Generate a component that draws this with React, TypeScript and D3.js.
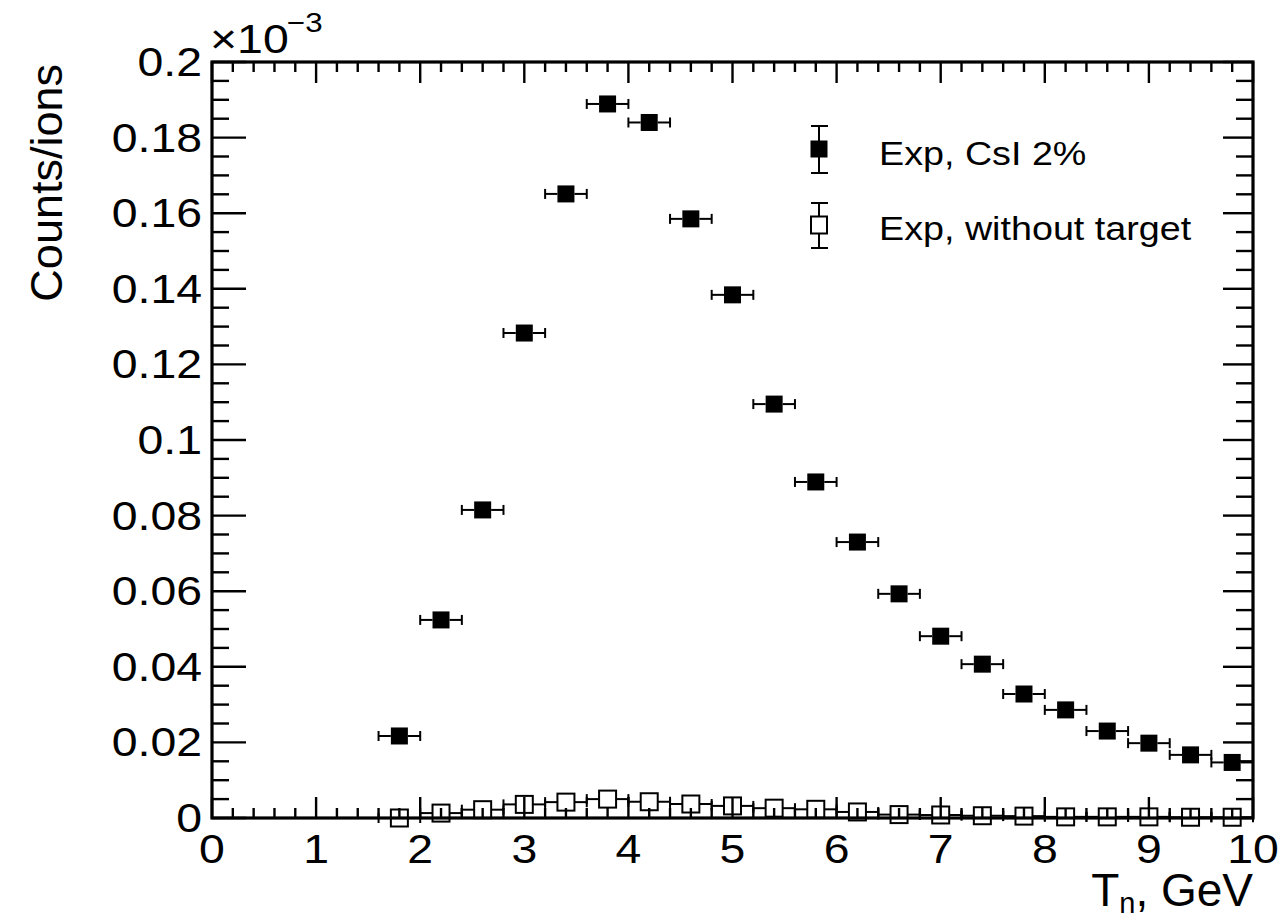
import React from "react";
import * as d3 from "d3";

const xCenters = [1.8, 2.2, 2.6, 3.0, 3.4, 3.8, 4.2, 4.6, 5.0, 5.4, 5.8, 6.2, 6.6, 7.0, 7.4, 7.8, 8.2, 8.6, 9.0, 9.4, 9.8];
const csiValues = [0.0217, 0.0524, 0.0815, 0.1283, 0.1651, 0.1889, 0.1840, 0.1585, 0.1384, 0.1095, 0.0889, 0.0730, 0.0593, 0.0481, 0.0407, 0.0328, 0.0286, 0.0230, 0.0198, 0.0167, 0.0147];
const noTargetValues = [0.0, 0.0013, 0.0022, 0.0036, 0.0042, 0.0050, 0.0043, 0.0037, 0.0032, 0.0026, 0.0023, 0.0016, 0.0009, 0.0008, 0.0006, 0.0005, 0.0003, 0.0003, 0.0003, 0.0002, 0.0002];
const xHalfWidth = 0.2;
const xTickLabels = ["0", "1", "2", "3", "4", "5", "6", "7", "8", "9", "10"];
const yTickLabels = ["0", "0.02", "0.04", "0.06", "0.08", "0.1", "0.12", "0.14", "0.16", "0.18", "0.2"];
const legendLabels = ["Exp, CsI 2%", "Exp, without target"];

const W = 1281, H = 923;
const L = 212, R = 1253, T = 62, B = 818;
const FONT = "'Liberation Sans', Arial, Helvetica, sans-serif";
const SX = 1.16;

export default function App() {
  const x = d3.scaleLinear().domain([0, 10]).range([L, R]);
  const y = d3.scaleLinear().domain([0, 0.2]).range([B, T]);
  const xMajor = d3.range(0, 11, 1);
  const xMinor = d3.range(0, 50).map((i) => i * 0.2).filter((v) => Math.abs(v - Math.round(v)) > 1e-6);
  const yMajor = d3.range(0, 11).map((i) => i * 0.02);
  const yMinor = d3.range(0, 41).map((i) => i * 0.005).filter((_, i) => i % 4 !== 0);
  const ms = 17;
  const cap = 10;

  const errBar = (xc: number, yc: number, key: string) => {
    const px = x(xc), py = y(yc);
    const x0 = x(xc - xHalfWidth), x1 = x(xc + xHalfWidth);
    return (
      <g key={key} stroke="#000" strokeWidth={2}>
        <line x1={x0} x2={px - ms / 2} y1={py} y2={py} />
        <line x1={px + ms / 2} x2={x1} y1={py} y2={py} />
        <line x1={x0} x2={x0} y1={py - cap / 2} y2={py + cap / 2} />
        <line x1={x1} x2={x1} y1={py - cap / 2} y2={py + cap / 2} />
      </g>
    );
  };

  return (
    <svg width={W} height={H} style={{ position: "absolute", left: 0, top: 0, background: "#fff" }} fontFamily={FONT}>
      <rect x={0} y={0} width={W} height={H} fill="#fff" />
      {/* ticks */}
      <g stroke="#000" strokeWidth={2.4}>
        {xMajor.map((v) => (
          <g key={"xM" + v}>
            <line x1={x(v)} x2={x(v)} y1={B} y2={B - 21} />
            <line x1={x(v)} x2={x(v)} y1={T} y2={T + 21} />
          </g>
        ))}
        {xMinor.map((v) => (
          <g key={"xm" + v}>
            <line x1={x(v)} x2={x(v)} y1={B} y2={B - 10} />
            <line x1={x(v)} x2={x(v)} y1={T} y2={T + 10} />
          </g>
        ))}
        {yMajor.map((v) => (
          <g key={"yM" + v}>
            <line x1={L} x2={L + 34} y1={y(v)} y2={y(v)} />
            <line x1={R} x2={R - 30} y1={y(v)} y2={y(v)} />
          </g>
        ))}
        {yMinor.map((v) => (
          <g key={"ym" + v}>
            <line x1={L} x2={L + 17} y1={y(v)} y2={y(v)} />
            <line x1={R} x2={R - 17} y1={y(v)} y2={y(v)} />
          </g>
        ))}
      </g>
      <rect x={L} y={T} width={R - L} height={B - T} fill="none" stroke="#000" strokeWidth={3.2} />

      {/* tick labels */}
      <g fontSize={40} fill="#000">
        {xMajor.map((v, i) => (
          <text key={"xl" + v} transform={`translate(${x(v)},863) scale(${SX},1)`} textAnchor="middle">
            {xTickLabels[i]}
          </text>
        ))}
        {yMajor.map((v, i) => (
          <text key={"yl" + i} transform={`translate(202,${y(v) + 14}) scale(${SX},1)`} textAnchor="end">
            {yTickLabels[i]}
          </text>
        ))}
      </g>
      <g fill="#000">
        <text transform={`translate(210,53) scale(${SX},1)`} fontSize={40}>×10</text>
        <text transform={`translate(287,32) scale(${SX},1)`} fontSize={27}>−3</text>
      </g>

      {/* axis titles */}
      <text x={R} y={906} textAnchor="end" fontSize={46} fill="#000">
        <tspan>T</tspan>
        <tspan dy={7} fontSize={29}>n</tspan>
        <tspan dy={-7}>, GeV</tspan>
      </text>
      <text transform="translate(62,64) rotate(-90)" textAnchor="end" fontSize={45} fill="#000">
        Counts/ions
      </text>

      {/* open markers: without target */}
      {xCenters.map((xc, i) => errBar(xc, noTargetValues[i], "ne" + i))}
      {xCenters.map((xc, i) => (
        <rect key={"nm" + i} x={x(xc) - ms / 2} y={y(noTargetValues[i]) - ms / 2} width={ms} height={ms} fill="none" stroke="#000" strokeWidth={2} />
      ))}

      {/* filled markers: CsI */}
      {xCenters.map((xc, i) => errBar(xc, csiValues[i], "ce" + i))}
      {xCenters.map((xc, i) => (
        <rect key={"cm" + i} x={x(xc) - ms / 2} y={y(csiValues[i]) - ms / 2} width={ms} height={ms} fill="#000" />
      ))}

      {/* legend */}
      <g>
        <g stroke="#000" strokeWidth={2}>
          <line x1={819} x2={819} y1={126} y2={173} />
          <line x1={811} x2={828} y1={126} y2={126} />
          <line x1={811} x2={828} y1={173} y2={173} />
        </g>
        <rect x={819 - 8.5} y={149 - 8.5} width={17} height={17} fill="#000" />
        <g stroke="#000" strokeWidth={2}>
          <line x1={819} x2={819} y1={203} y2={216} />
          <line x1={819} x2={819} y1={233} y2={248} />
          <line x1={811} x2={828} y1={203} y2={203} />
          <line x1={811} x2={828} y1={248} y2={248} />
        </g>
        <rect x={819 - 8} y={225 - 8.5} width={16} height={17} fill="#fff" stroke="#000" strokeWidth={2} />
        <text transform={`translate(879,165) scale(${SX},1)`} fontSize={32.5} fill="#000">{legendLabels[0]}</text>
        <text transform={`translate(879,240) scale(${SX},1)`} fontSize={32.5} fill="#000">{legendLabels[1]}</text>
      </g>
    </svg>
  );
}
